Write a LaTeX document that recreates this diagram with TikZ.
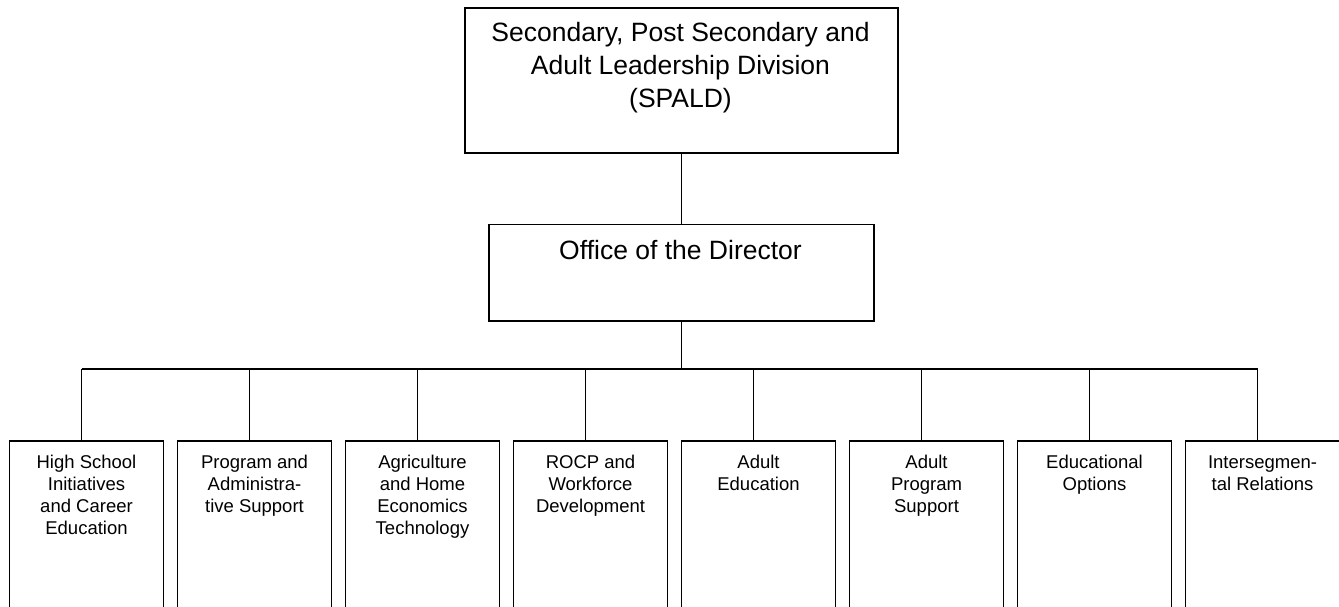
\documentclass[tikz,border=0pt]{standalone}
\usepackage{fontspec}
\setmainfont{Liberation Sans}
\usetikzlibrary{positioning}

\tikzset{
  orgbox/.style={rectangle, draw, line width=1.6pt, inner sep=0pt, anchor=north west},
  unitbox/.style={orgbox, minimum width=154pt, minimum height=200pt},
  bigtext/.style={inner sep=0pt, anchor=north, align=center, font=\fontsize{26.5}{33}\selectfont},
  smalltext/.style={inner sep=0pt, anchor=north, align=center, font=\fontsize{18.5}{21.7}\selectfont},
  link/.style={line width=1.5pt}
}

\begin{document}
\begin{tikzpicture}[x=1pt, y=-1pt]
            \useasboundingbox (0,0) rectangle (1339,606);

            % division and office
            \node[orgbox, minimum width=433pt, minimum height=145pt] (spald) at (464, 7) {};
            \node[bigtext] (spaldtxt) at (680.5, 22) {Secondary, Post Secondary and\\Adult Leadership Division\\(SPALD)};

            \node[orgbox, minimum width=385pt, minimum height=96.5pt] (office) at (488, 223.5) {};
            \node[bigtext] (officetxt) at (680.5, 240) {Office of the Director};

            \draw[link] (spald.south) -- (office.north);
            \draw[link] (office.south) -- ++(0, 47.5) coordinate (hub);

            % units
            \foreach \lbl [count=\i] in {
                {High School\\Initiatives\\and Career\\Education},
                {Program and\\Administra-\\tive Support},
                {Agriculture\\and Home\\Economics\\Technology},
                {ROCP and\\Workforce\\Development},
                {Adult\\Education},
                {Adult\\Program\\Support},
                {Educational\\Options},
                {Intersegmen-\\tal Relations}} {
              \node[unitbox] (u\i) at ({8.7 + 168*(\i-1)}, 440) {};
              \node[smalltext] (t\i) at ([yshift=-13.5pt]u\i.north) {\strut\lbl};
              \coordinate (s\i) at ([xshift=-4.8pt]u\i.north);
              \draw[link] (s\i) -- (s\i |- hub);
            }

            \draw[link] (s1 |- hub) -- (s8 |- hub);
\end{tikzpicture}
\end{document}
